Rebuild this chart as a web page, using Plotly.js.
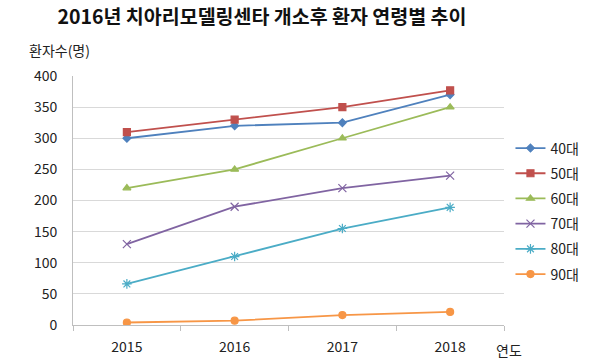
<!DOCTYPE html>
<html><head><meta charset="utf-8">
<script src="https://cdn.plot.ly/plotly-3.0.1.min.js"></script>
<style>html,body{margin:0;padding:0;background:#fff}#c{width:600px;height:363px}</style>
</head><body><div id="c"></div>
<script>
const years = ['2015','2016','2017','2018'];
const seriesNames = ['40대','50대','60대','70대','80대','90대'];
const v40 = [300, 320, 325, 370];
const v50 = [310, 330, 350, 377];
const v60 = [220, 250, 300, 350];
const v70 = [130, 190, 220, 240];
const v80 = [66, 110, 155, 189];
const v90 = [4, 7, 16, 21];
const values = [v40, v50, v60, v70, v80, v90];
const colors = ['#4F81BD','#C0504D','#9BBB59','#8064A2','#4BACC6','#F79646'];
const symbols = ['diamond','square','triangle-up','x-thin-open','asterisk-open','circle'];
const sizes = [6,7,7,8,8,7];
const F = '"Noto Sans CJK KR", "Noto Sans", sans-serif';

const traces = seriesNames.map((n,i)=>({
  type:'scatter', mode:'lines+markers', name:n, x:years, y:values[i], legendgroup:'g'+i,
  line:{color:colors[i], width:1.8},
  marker:{color:colors[i], symbol:symbols[i], size:sizes[i], line:{color:colors[i], width:1.2}}
}));

const layout = {
  width:600, height:363,
  margin:{l:73, r:96, t:76, b:38},
  paper_bgcolor:'#fff', plot_bgcolor:'#fff',
  font:{family:F, color:'#222', size:13},
  title:{text:'<b>2016년 치아리모델링센타 개소후 환자 연령별 추이</b>', font:{family:F, size:19.5, color:'#111'}, x:262/600, xanchor:'center', y:0.952, yanchor:'middle'},
  xaxis:{type:'category', tickson:'boundaries', ticks:'outside', ticklen:5, tickcolor:'#bfbfbf',
    showline:true, linecolor:'#bfbfbf', linewidth:1, showgrid:false, zeroline:false, ticklabelstandoff:9,
    tickfont:{size:14, family:F, color:'#222'}, range:[-0.5,3.5]},
  yaxis:{range:[0,400], dtick:50, tick0:0, showgrid:true, gridcolor:'#d9d9d9', gridwidth:1,
    showline:true, linecolor:'#bfbfbf', zeroline:false, ticks:'', ticklabelstandoff:12,
    tickfont:{size:14, family:F, color:'#222'}},
  legend:{x:1.015, xanchor:'left', y:0.456, yanchor:'middle', itemwidth:30, font:{size:14, family:F, color:'#222'}, tracegroupgap:4, bgcolor:'rgba(0,0,0,0)'},
  showlegend:true,
  annotations:[
    {text:'환자수(명)', xref:'paper', yref:'paper', x:-0.107, y:1.058, xanchor:'left', yanchor:'bottom', showarrow:false, font:{size:14, family:F, color:'#222'}},
    {text:'연도', xref:'paper', yref:'paper', x:0.977, y:-0.052, xanchor:'left', yanchor:'top', showarrow:false, font:{size:14, family:F, color:'#222'}}
  ]
};
Plotly.newPlot('c', traces, layout, {displayModeBar:false, staticPlot:true});
</script></body></html>
